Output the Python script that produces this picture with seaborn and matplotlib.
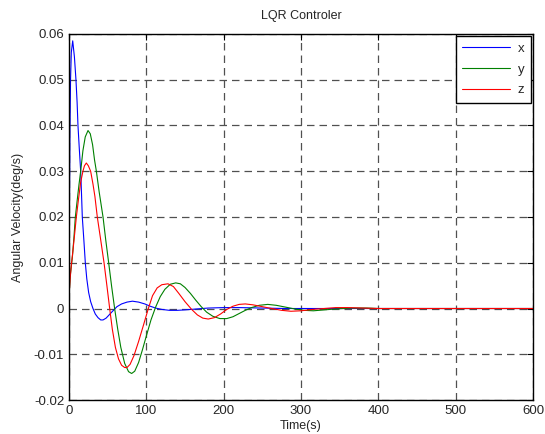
import numpy as np
import pandas as pd
import seaborn as sns
from matplotlib import pyplot as plt

# values (time in s, angular velocity in deg/s)
t_x = [0, 0.5, 1.2, 2, 3, 4.8, 7, 9, 10.5, 11.6, 13.3, 15.1, 16.2, 17.2, 19.2, 21.1, 23, 25.4,
       28, 31, 34, 37.5, 41, 44, 48, 53, 58, 62, 68, 75, 82, 90, 98, 105, 112, 120, 130, 140,
       150, 165, 180, 200, 220, 250, 280, 320, 400, 600]
w_x = [0, 0.02, 0.038, 0.05, 0.056, 0.0585, 0.055, 0.050, 0.045, 0.040, 0.035, 0.030, 0.025,
       0.020, 0.015, 0.010, 0.0065, 0.0035, 0.0015, 0.0, -0.0012, -0.002, -0.0025, -0.0025,
       -0.0021, -0.0012, -0.0003, 0.0004, 0.0010, 0.0014, 0.0016, 0.0014, 0.0010, 0.0005,
       0.0001, -0.0002, -0.0004, -0.0004, -0.0003, -0.0001, 0.0001, 0.0002, 0.0002, 0.0001,
       0.0, 0.0, 0.0, 0.0]

t_y = [0, 0.5, 1.5, 3, 4.5, 6.5, 8.2, 10.5, 13, 15.1, 18, 21, 24.6, 27.5, 30.5, 33, 35.4, 39,
       44, 47.5, 51.3, 55, 59, 63, 67, 72, 77, 81, 85, 90, 95, 100, 106, 112, 118, 124, 131,
       138, 144, 150, 157, 164, 171, 178, 186, 195, 204, 212, 220, 228, 236, 246, 257, 268,
       280, 292, 304, 316, 330, 345, 365, 385, 400, 600]
w_y = [0, 0.004, 0.007, 0.0092, 0.0115, 0.0158, 0.020, 0.0235, 0.0272, 0.030, 0.0345, 0.0375,
       0.0389, 0.0382, 0.0358, 0.0325, 0.030, 0.0255, 0.020, 0.015, 0.010, 0.005, 0.0,
       -0.0045, -0.0085, -0.0120, -0.0138, -0.0142, -0.0137, -0.0118, -0.0090, -0.006,
       -0.0025, 0.0003, 0.0026, 0.0042, 0.0053, 0.0056, 0.0054, 0.0046, 0.0033, 0.0018,
       0.0004, -0.0008, -0.0017, -0.0022, -0.0022, -0.0018, -0.0011, -0.0004, 0.0002, 0.0007,
       0.0009, 0.0007, 0.0003, -0.0001, -0.0004, -0.0005, -0.0003, -0.0001, 0.0001, 0.0001,
       0.0, 0.0]

t_z = [0, 0.5, 1.5, 3, 5, 7, 9.5, 12, 15, 18, 20, 22.4, 25, 28, 31, 33.5, 36.6, 41, 45.3, 49,
       52.6, 56, 60, 64, 68, 72, 75, 79, 84, 90, 96, 102.6, 108, 114, 120, 128, 135, 142, 150,
       158.6, 166, 173, 180, 188, 196, 204, 212, 220, 228, 238, 250, 262, 275, 287, 300, 315,
       330, 345, 360, 380, 400, 600]
w_z = [0, 0.004, 0.0065, 0.0095, 0.0125, 0.0158, 0.020, 0.0235, 0.0275, 0.030, 0.0312, 0.0318,
       0.0312, 0.030, 0.0272, 0.0245, 0.020, 0.015, 0.010, 0.005, 0.0, -0.0045, -0.0085,
       -0.0110, -0.0124, -0.0129, -0.0129, -0.0122, -0.0103, -0.0072, -0.0038, 0.0, 0.0028,
       0.0045, 0.0052, 0.0054, 0.0048, 0.0033, 0.0015, -0.0002, -0.0014, -0.0021, -0.0023,
       -0.0020, -0.0012, -0.0002, 0.0005, 0.0009, 0.0010, 0.0008, 0.0004, 0.0, -0.0004,
       -0.0006, -0.0005, -0.0002, 0.0, 0.0002, 0.0002, 0.0001, 0.0, 0.0]

df = pd.concat([
    pd.DataFrame({"t": t_x, "w": w_x, "axis": "x"}),
    pd.DataFrame({"t": t_y, "w": w_y, "axis": "y"}),
    pd.DataFrame({"t": t_z, "w": w_z, "axis": "z"}),
], ignore_index=True)

sns.set_style("white")
plt.rcParams['font.family'] = ['Liberation Sans', 'DejaVu Sans']

fig = plt.figure(figsize=(5.45, 4.34), dpi=100)
ax = fig.add_axes([0.1266, 0.0783, 0.8514, 0.8434])

sns.lineplot(data=df, x="t", y="w", hue="axis", palette=["#0000ff", "#008000", "#ff0000"],
             estimator=None, sort=False, linewidth=0.8, ax=ax)

ax.set_xlim(0, 600)
ax.set_ylim(-0.02, 0.06)
ax.set_xticks(np.arange(0, 601, 100))
ax.set_yticks(np.arange(-0.02, 0.0601, 0.01))
ax.set_yticklabels(["-0.02", "-0.01", "0", "0.01", "0.02", "0.03", "0.04", "0.05", "0.06"])
ax.grid(True, color="#505050", linestyle=(0, (6, 4)), linewidth=0.9)
ax.tick_params(direction="in", length=4, labelsize=9.5, top=True, right=True, color="black")
for s in ax.spines.values():
    s.set_color("black")
    s.set_linewidth(1.0)

ax.set_title("LQR Controler", fontsize=9, pad=11)
ax.set_xlabel("Time(s)", fontsize=9, labelpad=2)
ax.set_ylabel("Angular Velocity(deg/s)", fontsize=9, labelpad=7)

leg = ax.legend(loc="upper right", fontsize=9.5, frameon=True, fancybox=False, framealpha=1,
                edgecolor="black", borderaxespad=0.15, handlelength=3.6, labelspacing=0.65,
                borderpad=0.5, handletextpad=0.6, title=None)
leg.get_frame().set_linewidth(1.0)

fig.savefig("out.png", dpi=100)
